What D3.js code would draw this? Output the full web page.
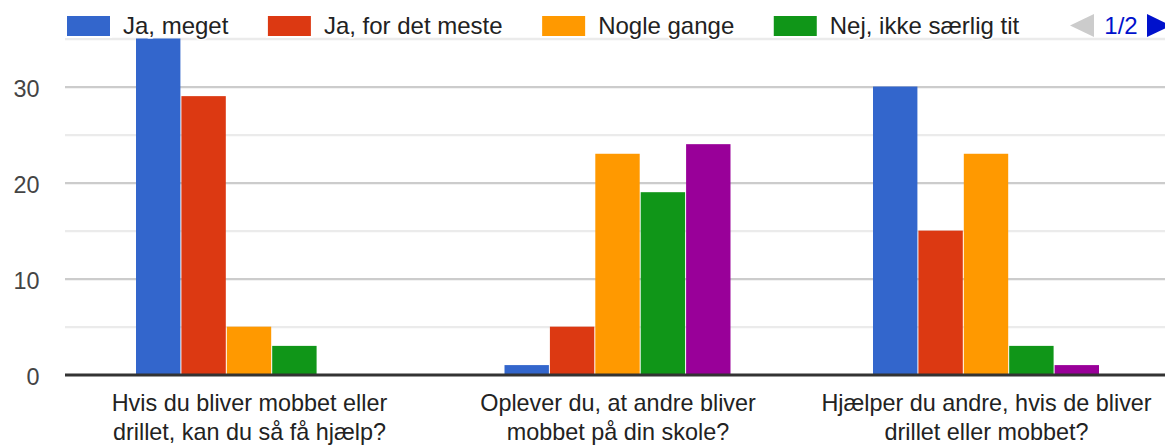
<!DOCTYPE html>
<html>
<head>
<meta charset="utf-8">
<script src="https://cdn.jsdelivr.net/npm/d3@7"></script>
<style>
  html, body { margin: 0; padding: 0; background: #fff; overflow: hidden; }
  svg { display: block; font-family: Arial, "Liberation Sans", sans-serif; }
</style>
</head>
<body>
<svg id="chart" width="1165" height="446"></svg>
<script>
// ---- data ----
const categories = [
  "Hvis du bliver mobbet eller drillet, kan du så få hjælp?",
  "Oplever du, at andre bliver mobbet på din skole?",
  "Hjælper du andre, hvis de bliver drillet eller mobbet?"
];
const categoryLines = [
  ["Hvis du bliver mobbet eller", "drillet, kan du så få hjælp?"],
  ["Oplever du, at andre bliver", "mobbet på din skole?"],
  ["Hjælper du andre, hvis de bliver", "drillet eller mobbet?"]
];
const seriesNames = ["Ja, meget", "Ja, for det meste", "Nogle gange", "Nej, ikke særlig tit", "Nej, aldrig"];
const jaMeget       = [35, 1, 30];
const jaForDetMeste = [29, 5, 15];
const nogleGange    = [5, 23, 23];
const nejIkkeTit    = [3, 19, 3];
const nejAldrig     = [0, 24, 1];
const seriesValues = [jaMeget, jaForDetMeste, nogleGange, nejIkkeTit, nejAldrig];
const colors = ["#3366cc", "#dc3912", "#ff9900", "#109618", "#990099"];
const majorTicks = [0, 10, 20, 30];
const minorTicks = [5, 15, 25, 35];
const legendVisible = 4;
const pageLabel = "1/2";

// ---- layout ----
const W = 1165, H = 446;
const FONT = 23.4;
const LFONT = 24;
const svg = d3.select("#chart");

const x0 = d3.scaleBand().domain(d3.range(categories.length))
  .range([65.25, 1170.75]).paddingInner(0.384).paddingOuter(0.192);
const x1 = d3.scaleBand().domain(d3.range(seriesNames.length))
  .range([0, x0.bandwidth()]).padding(0);
const y = d3.scaleLinear().domain([0, 35]).range([374.7, 38.5]);

// minor gridlines
svg.append("g")
  .attr("transform", "translate(65,0)")
  .call(d3.axisLeft(y).tickValues(minorTicks).tickSize(-(W - 65)).tickFormat(""))
  .call(g => g.select(".domain").remove())
  .call(g => g.selectAll("line").attr("stroke", "#ebebeb").attr("stroke-width", 2.3));

// major gridlines
svg.append("g")
  .attr("transform", "translate(65,0)")
  .call(d3.axisLeft(y).tickValues(majorTicks.filter(d => d > 0)).tickSize(-(W - 65)).tickFormat(""))
  .call(g => g.select(".domain").remove())
  .call(g => g.selectAll("line").attr("stroke", "#cccccc").attr("stroke-width", 2.3));

// bars
const groups = svg.append("g").selectAll("g")
  .data(categories.map((c, i) => i))
  .join("g")
  .attr("transform", i => `translate(${x0(i)},0)`);

groups.selectAll("rect")
  .data(i => seriesValues.map((vals, s) => ({ s, v: vals[i] })).filter(d => d.v > 0))
  .join("rect")
  .attr("x", d => x1(d.s))
  .attr("width", x1.bandwidth() - 1)
  .attr("y", d => y(d.v))
  .attr("height", d => y(0) - y(d.v))
  .attr("fill", d => colors[d.s]);

// baseline
svg.append("line")
  .attr("x1", 65).attr("x2", W)
  .attr("y1", y(0)+0.3).attr("y2", y(0)+0.3)
  .attr("stroke", "#333333").attr("stroke-width", 3);

// y labels
svg.append("g")
  .attr("transform", "translate(39.5,0)")
  .call(d3.axisLeft(y).tickValues(majorTicks).tickSize(0).tickPadding(0))
  .call(g => g.select(".domain").remove())
  .call(g => g.selectAll("text")
    .attr("font-size", FONT).attr("font-family", "Arial, 'Liberation Sans', sans-serif")
    .attr("fill", "#444444").attr("dy", null).attr("y", 10).attr("x", 0));

// x labels
const xAxis = svg.append("g")
  .call(d3.axisBottom(x0).tickSize(0).tickFormat(""));
xAxis.select(".domain").remove();
xAxis.selectAll(".tick text").remove();
xAxis.selectAll(".tick").each(function(d) {
  const t = d3.select(this).append("text")
    .attr("text-anchor", "middle")
    .attr("font-size", FONT)
    .attr("font-family", "Arial, 'Liberation Sans', sans-serif")
    .attr("fill", "#222222");
  categoryLines[d].forEach((line, k) => {
    t.append("tspan").attr("x", 0).attr("y", 410.7 + k * 29.5).text(line);
  });
});

// legend
const legend = svg.append("g");
let lx = 66;
for (let s = 0; s < legendVisible; s++) {
  legend.append("rect")
    .attr("x", lx).attr("y", 15).attr("width", 45).attr("height", 22)
    .attr("fill", colors[s]).attr("stroke", "#fff").attr("stroke-width", 2);
  const t = legend.append("text")
    .attr("x", lx + 57).attr("y", 33.5)
    .attr("font-size", LFONT)
    .attr("fill", "#222222")
    .attr("stroke", "#fff").attr("stroke-width", 3).attr("paint-order", "stroke")
    .text(seriesNames[s]);
  const w = t.node().getComputedTextLength();
  lx = lx + 57 + w + 38.5;
}
// pager
legend.append("path")
  .attr("d", "M1070,25.5 L1094,14 L1094,37 Z")
  .attr("fill", "#cccccc");
legend.append("text")
  .attr("x", 1121).attr("y", 33.5).attr("text-anchor", "middle")
  .attr("font-size", LFONT).attr("fill", "#0011cc")
  .text(pageLabel);
legend.append("path")
  .attr("d", "M1147,14 L1171,25.5 L1147,37 Z")
  .attr("fill", "#0011cc");
</script>
</body>
</html>
